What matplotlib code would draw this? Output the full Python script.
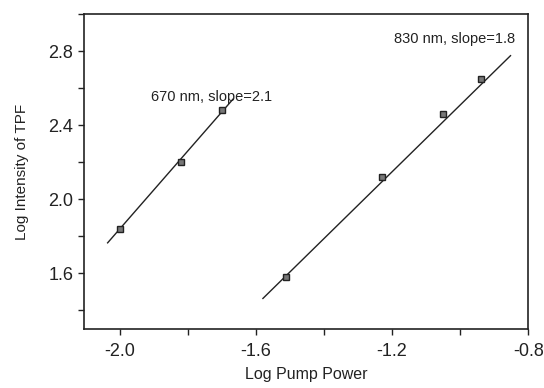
import numpy as np
import matplotlib
matplotlib.use("Agg")
import matplotlib.pyplot as plt
from matplotlib.ticker import MultipleLocator

plt.rcParams['font.family'] = ['Liberation Sans', 'DejaVu Sans']

# measured points
x_670 = [-2.00, -1.82, -1.70]
y_670 = [1.84, 2.20, 2.48]
x_830 = [-1.51, -1.23, -1.05, -0.94]
y_830 = [1.58, 2.12, 2.46, 2.65]

# fitted lines (end points)
fit_x_670 = [-2.035, -1.667]
fit_y_670 = [1.765, 2.54]
fit_x_830 = [-1.579, -0.852]
fit_y_830 = [1.465, 2.775]

ink = "#222222"

fig = plt.figure(figsize=(5.44, 3.88), dpi=100)
ax = fig.add_axes([0.154, 0.152, 0.817, 0.812])

ax.plot(fit_x_670, fit_y_670, color=ink, lw=1.0)
ax.plot(fit_x_830, fit_y_830, color=ink, lw=1.0)
ax.plot(x_670, y_670, "s", ms=4.5, mfc="#777777", mec=ink, mew=1.0)
ax.plot(x_830, y_830, "s", ms=4.5, mfc="#777777", mec=ink, mew=1.0)

ax.text(-1.907, 2.55, "670 nm, slope=2.1", fontsize=10.5, va="center", color=ink)
ax.text(-1.195, 2.865, "830 nm, slope=1.8", fontsize=10.5, va="center", color=ink)

ax.set_xlim(-2.105, -0.8)
ax.set_ylim(1.3, 3.0)
ax.xaxis.set_minor_locator(MultipleLocator(0.2))
ax.yaxis.set_minor_locator(MultipleLocator(0.2))
ax.set_xticks([-2.0, -1.6, -1.2, -0.8])
ax.set_xticklabels(["-2.0", "-1.6", "-1.2", "-0.8"])
ax.set_yticks([1.6, 2.0, 2.4, 2.8])
ax.set_yticklabels(["1.6", "2.0", "2.4", "2.8"])
ax.tick_params(which="both", direction="out", labelsize=13, width=1.0,
               color=ink, labelcolor=ink)
ax.tick_params(which="both", length=4)
ax.tick_params(axis="x", pad=6)
for s in ax.spines.values():
    s.set_linewidth(1.2)
    s.set_color(ink)

ax.set_xlabel("Log Pump Power", fontsize=11.5, labelpad=5, color=ink)
ax.set_ylabel("Log Intensity of TPF", fontsize=11, labelpad=14, color=ink)

fig.savefig("out.png", dpi=100)
